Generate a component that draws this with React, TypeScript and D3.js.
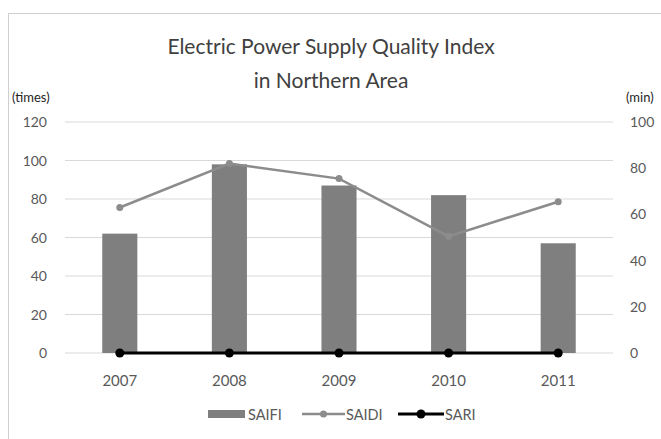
import React from "react";
import * as d3 from "d3";

const years = ["2007", "2008", "2009", "2010", "2011"];
const saifi = [62, 98, 87, 82, 57];
const saidi = [63, 82, 75.5, 50.5, 65.5];
const sari = [0, 0, 0, 0, 0];
const leftTicks = [0, 20, 40, 60, 80, 100, 120];
const rightTicks = [0, 20, 40, 60, 80, 100];

const W = 661;
const H = 439;
const FONT = "Lato, 'Open Sans', sans-serif";

export default function App() {
  const x = d3.scaleBand<string>().domain(years).range([65, 613]).paddingInner(0).paddingOuter(0);
  const yL = d3.scaleLinear().domain([0, 120]).range([353, 122]);
  const yR = d3.scaleLinear().domain([0, 100]).range([353, 122]);
  const barW = x.bandwidth() * 0.32;
  const cx = (d: string) => (x(d) as number) + x.bandwidth() / 2;

  const saidiLine = d3
    .line<number>()
    .x((_, i) => cx(years[i]))
    .y((d) => yR(d));
  const sariLine = d3
    .line<number>()
    .x((_, i) => cx(years[i]))
    .y((d) => yR(d));

  const tickColor = "#595959";

  return (
    <svg
      width={W}
      height={H}
      style={{ position: "absolute", left: 0, top: 0, background: "#fff" }}
      fontFamily={FONT}
    >
      <rect x={0} y={0} width={W} height={H} fill="#fff" />
      <line x1={8} x2={661} y1={13.5} y2={13.5} stroke="#cfcfcf" strokeWidth={1} />
      <line x1={8.5} x2={8.5} y1={13} y2={439} stroke="#cfcfcf" strokeWidth={1} />

      <text x={331} y={54} textAnchor="middle" fontSize={21} fill="#404040">
        Electric Power Supply Quality Index
      </text>
      <text x={331} y={88} textAnchor="middle" fontSize={21} fill="#404040">
        in Northern Area
      </text>

      {leftTicks.map((t) => (
        <g key={"l" + t}>
          <line x1={65} x2={613} y1={yL(t)} y2={yL(t)} stroke="#d9d9d9" strokeWidth={1} />
          <text x={47} y={yL(t) + 5} textAnchor="end" fontSize={14} fill={tickColor}>
            {t}
          </text>
        </g>
      ))}
      {rightTicks.map((t) => (
        <text key={"r" + t} x={630} y={yR(t) + 5} textAnchor="start" fontSize={14} fill={tickColor}>
          {t}
        </text>
      ))}
      <text x={12} y={102} fontSize={13} fill="#262626">(times)</text>
      <text x={626} y={102} fontSize={13} fill="#262626">(min)</text>

      {years.map((y, i) => (
        <rect
          key={"b" + y}
          x={cx(y) - barW / 2}
          y={yL(saifi[i])}
          width={barW}
          height={yL(0) - yL(saifi[i])}
          fill="#7f7f7f"
        />
      ))}

      <path d={saidiLine(saidi) || ""} fill="none" stroke="#8c8c8c" strokeWidth={2.5} />
      {saidi.map((v, i) => (
        <circle key={"s" + i} cx={cx(years[i])} cy={yR(v)} r={3.5} fill="#8c8c8c" />
      ))}

      <path d={sariLine(sari) || ""} fill="none" stroke="#000" strokeWidth={3} />
      {sari.map((v, i) => (
        <circle key={"r" + i} cx={cx(years[i])} cy={yR(v)} r={4.5} fill="#000" />
      ))}

      {years.map((y) => (
        <text key={"x" + y} x={cx(y)} y={386} textAnchor="middle" fontSize={15} fill={tickColor}>
          {y}
        </text>
      ))}

      <g>
        <rect x={208} y={410} width={37} height={8} fill="#7f7f7f" />
        <text x={248} y={419.5} fontSize={14.5} fill={tickColor}>SAIFI</text>
        <line x1={302} x2={345} y1={414} y2={414} stroke="#8c8c8c" strokeWidth={2.5} />
        <circle cx={323.5} cy={414} r={3.5} fill="#8c8c8c" />
        <text x={346} y={419.5} fontSize={14.5} fill={tickColor}>SAIDI</text>
        <line x1={398} x2={444} y1={414} y2={414} stroke="#000" strokeWidth={3} />
        <circle cx={421} cy={414} r={4.5} fill="#000" />
        <text x={445} y={419.5} fontSize={14.5} fill={tickColor}>SARI</text>
      </g>
    </svg>
  );
}
